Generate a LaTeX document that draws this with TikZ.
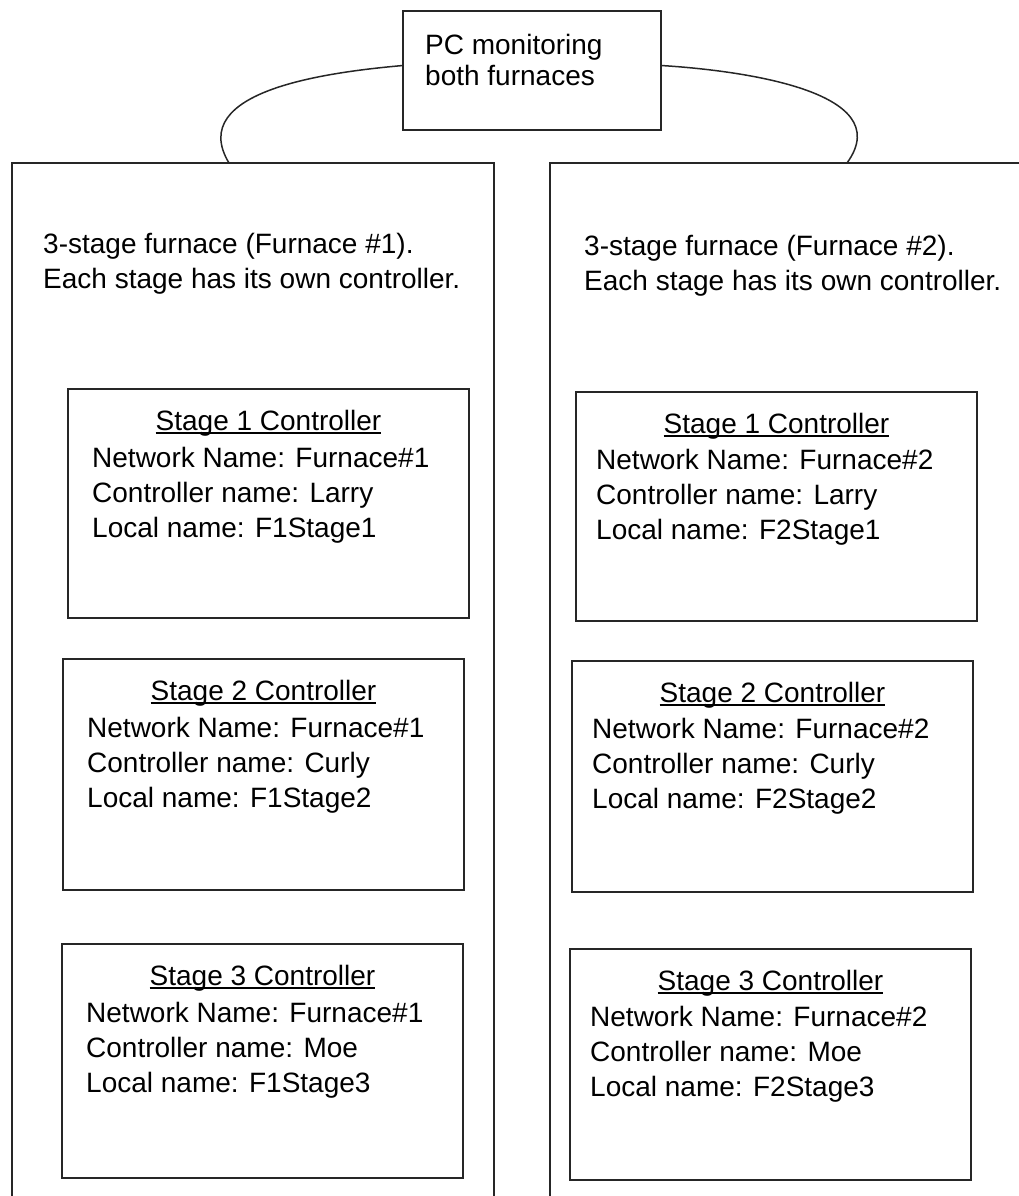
\documentclass[tikz,border=0pt]{standalone}
\usepackage{fontspec}
\setmainfont{Liberation Sans}
\usepackage{tikz}
\usetikzlibrary{positioning,calc}

% underlined title, rule a little under the baseline
\newcommand{\ulname}[1]{\setbox0\hbox{#1}\rlap{\rule[-3.5pt]{\wd0}{1.6pt}}\box0}

\begin{document}
\begin{tikzpicture}[
  x=1pt,y=-1pt,
  every node/.style={font=\fontsize{28}{35}\selectfont},
  line/.style={line width=1.5pt,black!85},
  box/.style={draw,line width=1.5pt,black!85,inner sep=0pt,outer sep=0pt,anchor=north west},
  stagebox/.style={box,minimum width=401pt},
  txt/.style={align=left,inner sep=0pt,anchor=base west},
  title/.style={inner sep=0pt,anchor=base}
]
\useasboundingbox (0,0) rectangle (1019,1196);
\clip (0,0) rectangle (1019,1196);
% PC on top (base anchor sits on the last line)
\node[box,minimum width=258pt,minimum height=119pt] (pc) at (403,11) {};
\node[txt,font=\fontsize{28}{31}\selectfont] (pctxt) at (425,86) {PC monitoring\\both furnaces};
% the two furnaces
\node[box,minimum width=482pt,minimum height=1100pt] (fur1) at (12,163) {};
\node[box,minimum width=482pt,minimum height=1100pt] (fur2) at (550,163) {};
\node[txt] (fur1txt) at (43,288) {3-stage furnace (Furnace \#1).\\Each stage has its own controller.};
\node[txt] (fur2txt) at (584,290) {3-stage furnace (Furnace \#2).\\Each stage has its own controller.};
\coordinate (in1) at (229,163);
\coordinate (in2) at (847,163);
\draw[line] ([yshift=5pt]pc.west) .. controls (330,72) and (185,90) .. (in1);
\draw[line] ([yshift=5pt]pc.east) .. controls (735,70) and (900,90) .. (in2);
% furnace 1 controllers
\node[stagebox,minimum height=229pt] (f1s1) at (68,389) {};
\node[title] (f1s1t) at ([yshift=-41pt]f1s1.north) {\ulname{Stage 1 Controller}};
\node[txt] (f1s1i) at ([xshift=24pt,yshift=-148pt]f1s1.north west) {Network Name: Furnace\#1\\Controller name: Larry\\Local name: F1Stage1};
\node[stagebox,minimum height=231pt] (f1s2) at (63,659) {};
\node[title] (f1s2t) at ([yshift=-41pt]f1s2.north) {\ulname{Stage 2 Controller}};
\node[txt] (f1s2i) at ([xshift=24pt,yshift=-148pt]f1s2.north west) {Network Name: Furnace\#1\\Controller name: Curly\\Local name: F1Stage2};
\node[stagebox,minimum height=234pt] (f1s3) at (62,944) {};
\node[title] (f1s3t) at ([yshift=-41pt]f1s3.north) {\ulname{Stage 3 Controller}};
\node[txt] (f1s3i) at ([xshift=24pt,yshift=-148pt]f1s3.north west) {Network Name: Furnace\#1\\Controller name: Moe\\Local name: F1Stage3};
% furnace 2 controllers
\node[stagebox,minimum height=229pt] (f2s1) at (576,392) {};
\node[title] (f2s1t) at ([yshift=-41pt]f2s1.north) {\ulname{Stage 1 Controller}};
\node[txt] (f2s1i) at ([xshift=20pt,yshift=-147pt]f2s1.north west) {Network Name: Furnace\#2\\Controller name: Larry\\Local name: F2Stage1};
\node[stagebox,minimum height=231pt] (f2s2) at (572,661) {};
\node[title] (f2s2t) at ([yshift=-41pt]f2s2.north) {\ulname{Stage 2 Controller}};
\node[txt] (f2s2i) at ([xshift=20pt,yshift=-147pt]f2s2.north west) {Network Name: Furnace\#2\\Controller name: Curly\\Local name: F2Stage2};
\node[stagebox,minimum height=231pt] (f2s3) at (570,949) {};
\node[title] (f2s3t) at ([yshift=-41pt]f2s3.north) {\ulname{Stage 3 Controller}};
\node[txt] (f2s3i) at ([xshift=20pt,yshift=-147pt]f2s3.north west) {Network Name: Furnace\#2\\Controller name: Moe\\Local name: F2Stage3};
\end{tikzpicture}
\end{document}
